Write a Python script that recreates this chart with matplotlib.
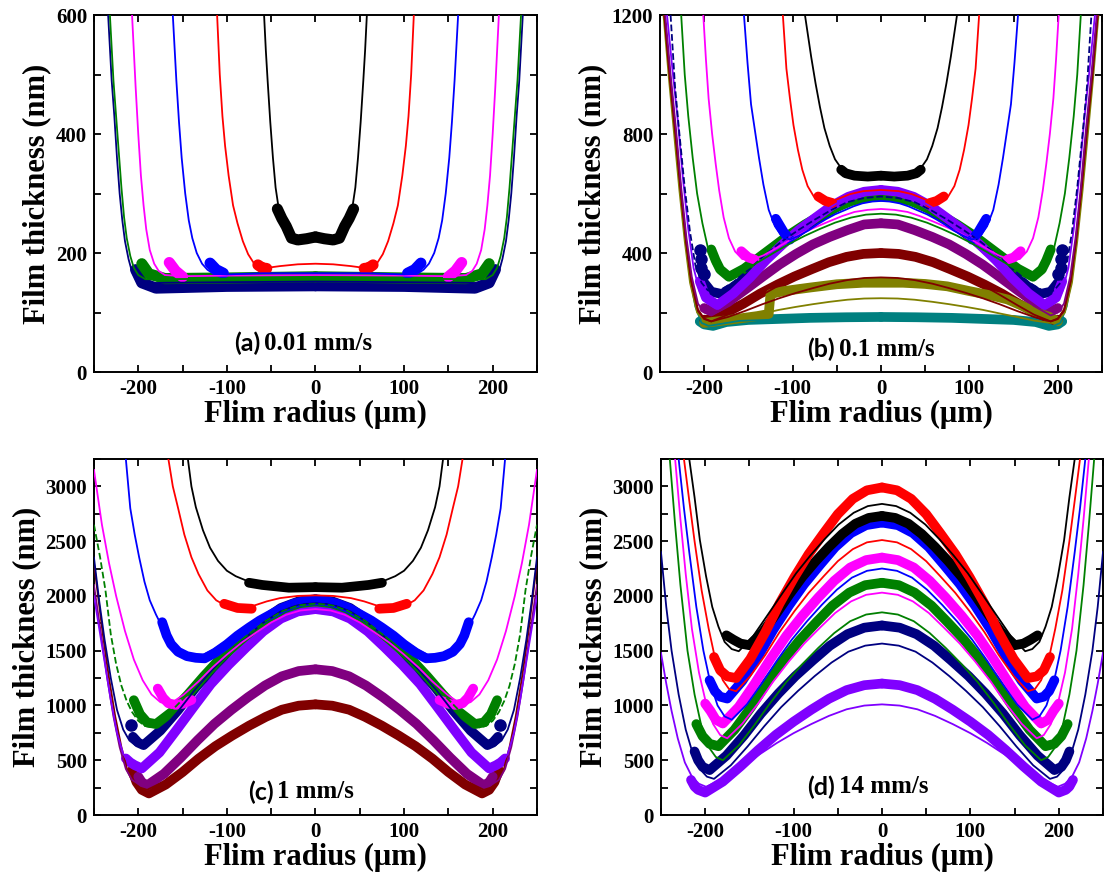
import numpy as np
import matplotlib.pyplot as plt
from matplotlib.ticker import MultipleLocator

plt.rcParams['font.family'] = ['Liberation Serif', 'DejaVu Serif']
plt.rcParams['font.weight'] = 'bold'
plt.rcParams['axes.unicode_minus'] = False

K, R, B, M, G = '#000000', '#ff0000', '#0000ff', '#ff00ff', '#008000'
N, V, P, DR, O, T = '#000080', '#8000ff', '#800080', '#800000', '#808000', '#008080'

# ---- (a) 0.01 mm/s : half profiles (radius um, thickness nm) ----
a_fit_black = [(0, 224), (15, 226), (25, 232), (32, 242), (38, 258), (42, 280), (45, 310), (48, 360),
               (51, 420), (54, 490), (56, 540), (58, 600)]
a_fit_red = [(0, 182), (20, 181), (40, 178), (55, 175), (63, 176), (70, 184), (76, 198), (82, 220),
             (88, 250), (93, 280), (98, 330), (102, 380), (105, 430), (108, 500), (111, 600)]
a_fit_blue = [(0, 166), (60, 166), (100, 164), (115, 165), (122, 172), (128, 182), (134, 200), (139, 225),
              (143, 255), (147, 300), (151, 360), (154, 420), (157, 490), (161, 600)]
a_fit_magenta = [(0, 163), (100, 162), (150, 161), (170, 163), (177, 170), (182, 182), (187, 205), (191, 240),
                 (194, 280), (197, 330), (200, 400), (203, 480), (205, 540), (207, 600)]
a_fit_green = [(0, 158), (100, 157), (170, 156), (192, 156), (200, 163), (205, 175), (209, 195), (213, 225),
               (216, 260), (219, 310), (222, 370), (225, 430), (228, 490), (232, 600)]
a_fit_navy = [(0, 152), (100, 151), (170, 150), (195, 149), (202, 155), (207, 168), (211, 190), (215, 220),
              (218, 255), (221, 300), (224, 360), (227, 430), (230, 490), (234, 600)]

a_dat_black = [(0, 227), (10, 224), (20, 222), (27, 225), (33, 245), (38, 258), (43, 274)]
a_dat_red = [(55, 174), (60, 175), (65, 180)]
a_dat_blue = [(104, 166), (112, 172), (119, 183)]
a_dat_magenta = [(150, 160), (158, 170), (165, 184)]
a_dat_green = [(0, 160), (100, 158), (170, 157), (188, 165), (196, 182)]
a_dat_navy = [(0, 145), (100, 144), (180, 141), (196, 150), (203, 172)]

# ---- (b) 0.1 mm/s ----
b_fit_black = [(0, 655), (20, 657), (35, 665), (45, 685), (52, 715), (58, 760), (64, 820), (69, 890),
               (74, 970), (79, 1060), (83, 1140), (86, 1200)]
b_fit_red = [(0, 612), (20, 608), (35, 598), (50, 580), (60, 570), (68, 572), (76, 590), (83, 625),
             (89, 680), (94, 747), (99, 830), (103, 920), (107, 1020), (111, 1200)]
b_fit_blue = [(0, 575), (10, 573), (21, 567), (31, 557), (41, 544), (52, 530), (62, 514), (72, 496),
              (82, 476), (93, 458), (103, 445), (112, 455), (120, 490), (127, 545), (133, 630),
              (138, 720), (142, 800), (147, 900), (151, 1040), (155, 1200)]
b_fit_magenta = [(0, 548), (15, 545), (30, 538), (44, 524), (59, 506), (74, 487), (89, 467), (104, 442),
                 (118, 417), (133, 392), (148, 375), (157, 380), (165, 405), (172, 450), (178, 520),
                 (183, 610), (187, 700), (191, 800), (195, 920), (198, 1050), (201, 1200)]
b_fit_green = [(0, 532), (17, 529), (34, 519), (52, 502), (69, 481), (86, 458), (103, 432), (120, 403),
               (138, 371), (155, 341), (172, 320), (181, 330), (189, 360), (196, 420), (202, 500),
               (208, 600), (213, 720), (218, 860), (222, 1000), (226, 1200)]
b_fit_navy = [(0, 590), (19, 585), (38, 571), (56, 545), (75, 512), (94, 476), (113, 437), (132, 392),
              (150, 343), (169, 298), (188, 265), (196, 275), (203, 300), (210, 360), (216, 470),
              (222, 620), (228, 800), (233, 960), (238, 1200)]
b_fit_violet = [(0, 610), (19, 604), (38, 587), (57, 555), (76, 516), (95, 474), (114, 427), (133, 372),
                (152, 314), (171, 259), (190, 220), (198, 235), (205, 270), (212, 350), (218, 480),
                (224, 650), (230, 850), (236, 1020), (242, 1200)]
b_fit_purple = [(0, 505), (19, 500), (38, 486), (58, 461), (77, 429), (96, 395), (115, 357), (134, 313),
                (154, 266), (173, 222), (192, 190), (200, 200), (207, 230), (214, 320), (220, 450),
                (226, 620), (232, 820), (238, 1000), (244, 1200)]
b_fit_darkred = [(0, 400), (19, 397), (38, 386), (58, 368), (77, 345), (96, 320), (115, 292), (134, 260),
                 (154, 225), (173, 193), (192, 170), (200, 180), (207, 210), (214, 300), (220, 430),
                 (226, 600), (232, 800), (238, 980), (245, 1200)]
b_fit_brown = [(0, 318), (19, 316), (38, 309), (58, 297), (77, 282), (96, 266), (115, 248), (134, 228),
               (154, 205), (173, 185), (192, 170), (200, 178), (207, 205), (215, 310), (221, 450),
               (227, 620), (233, 810), (239, 990), (245, 1200)]
b_fit_olive = [(0, 248), (19, 247), (38, 243), (58, 236), (77, 228), (96, 219), (115, 209), (134, 197),
               (154, 185), (173, 173), (192, 165), (200, 172), (208, 200), (216, 300), (222, 440),
               (228, 610), (234, 800), (240, 990), (246, 1200)]
b_fit_teal = [(0, 180), (100, 178), (160, 172), (185, 160), (195, 155), (203, 165), (210, 220), (216, 320),
              (222, 470), (228, 650), (234, 850), (240, 1030), (245, 1200)]

b_dat_black = [(0, 660), (15, 657), (30, 660), (40, 668), (45, 680)]
b_dat_red = [(55, 568), (63, 575), (71, 590)]
b_dat_blue = [(103, 445), (110, 470), (119, 515)]
b_dat_magenta = [(143, 378), (150, 385), (158, 406)]
b_dat_green = [(0, 590), (17, 586), (34, 574), (52, 552), (69, 525), (86, 496), (103, 463), (120, 425),
               (138, 385), (155, 347), (172, 320), (182, 345), (187, 375), (192, 412)]
b_dat_navy = [(0, 595), (18, 590), (36, 575), (54, 548), (72, 515), (90, 478), (108, 439), (126, 392),
              (144, 342), (162, 295), (180, 262), (192, 270), (200, 300)]
b_dat_navy_dots = [(200, 330), (204, 350), (204, 380), (205, 410)]
b_dat_violet = [(0, 612), (19, 606), (37, 589), (56, 558), (74, 519), (93, 477), (111, 430), (130, 376),
                (148, 318), (167, 264), (185, 225), (198, 250), (205, 305)]
b_dat_purple = [(0, 500), (19, 496), (38, 477), (58, 454), (77, 429), (96, 397), (115, 361), (134, 320),
                (154, 276), (173, 235), (192, 205), (200, 215)]
b_dat_darkred = [(0, 400), (20, 397), (39, 387), (59, 369), (78, 346), (98, 321), (117, 294), (137, 263),
                 (156, 229), (176, 198), (195, 175), (200, 176)]
b_dat_olive = [(-200, 165), (-180, 172), (-160, 180), (-140, 188), (-127, 195), (-125, 262), (-110, 272),
               (-80, 284), (-50, 295), (-20, 300), (0, 300), (25, 300), (50, 296), (75, 288), (100, 272),
               (125, 257), (143, 244), (160, 222), (175, 200), (190, 186), (200, 170)]
b_dat_teal = [(0, 185), (40, 184), (80, 182), (120, 178), (150, 175), (175, 168), (190, 155), (200, 160),
              (205, 170)]

# ---- (c) 1 mm/s ----
c_fit_black = [(0, 2060), (30, 2065), (55, 2085), (75, 2130), (90, 2180), (100, 2230), (110, 2320),
               (119, 2440), (127, 2600), (135, 2810), (140, 3000), (144, 3250)]
c_fit_red = [(0, 2005), (20, 2000), (40, 1980), (55, 1950), (70, 1910), (85, 1890), (100, 1905),
             (112, 1960), (122, 2050), (132, 2200), (140, 2353), (148, 2560), (155, 2800), (161, 3000),
             (166, 3250)]
c_fit_blue = [(0, 1950), (13, 1943), (26, 1920), (39, 1880), (52, 1830), (65, 1775), (78, 1715),
              (91, 1645), (104, 1570), (117, 1500), (130, 1450), (142, 1465), (153, 1510), (163, 1590),
              (172, 1700), (180, 1830), (187, 1960), (193, 2130), (199, 2353), (204, 2560), (209, 2800),
              (214, 3250)]
c_fit_magenta = [(0, 1880), (17, 1867), (33, 1828), (50, 1758), (66, 1671), (83, 1576), (99, 1471),
                 (116, 1349), (132, 1219), (149, 1097), (165, 1010), (175, 1030), (185, 1100), (195, 1230),
                 (205, 1420), (215, 1680), (225, 2000), (233, 2300), (241, 2650), (250, 3150)]
c_fit_green = [(0, 1930), (19, 1913), (37, 1862), (56, 1772), (74, 1659), (93, 1535), (111, 1399),
               (130, 1241), (148, 1071), (167, 913), (185, 800), (193, 815), (200, 860), (207, 940),
               (213, 1040), (219, 1180), (225, 1380), (231, 1650), (237, 2050), (243, 2350), (250, 2650)]
c_fit_navy = [(0, 1940), (20, 1920), (39, 1861), (59, 1755), (78, 1623), (98, 1478), (117, 1320),
              (137, 1135), (156, 937), (176, 752), (195, 620), (203, 635), (210, 680), (217, 780),
              (224, 960), (231, 1250), (238, 1600), (244, 1950), (250, 2350)]
c_fit_violet = [(0, 1850), (20, 1828), (39, 1764), (59, 1648), (78, 1504), (98, 1346), (117, 1173),
                (137, 972), (156, 756), (176, 554), (195, 410), (203, 425), (210, 460), (217, 560),
                (224, 750), (231, 1050), (238, 1400), (244, 1700), (250, 2000)]
c_fit_purple = [(0, 1310), (19, 1294), (38, 1248), (58, 1164), (77, 1060), (96, 946), (115, 821),
                (134, 676), (154, 520), (173, 374), (192, 270), (200, 285), (207, 320), (214, 420),
                (221, 620), (228, 900), (235, 1250), (242, 1650), (250, 2100)]
c_fit_darkred = [(0, 980), (19, 969), (38, 935), (57, 875), (76, 800), (95, 718), (114, 628), (133, 523),
                 (152, 410), (171, 305), (190, 230), (198, 250), (205, 290), (212, 400), (219, 620),
                 (226, 900), (233, 1250), (240, 1650), (250, 2300)]

c_dat_black = [(0, 2080), (30, 2075), (60, 2100), (75, 2120)]
c_dat_red = [(72, 1883), (88, 1890), (103, 1928)]
c_dat_blue = [(0, 1960), (13, 1952), (25, 1928), (38, 1886), (50, 1833), (63, 1775), (75, 1711),
              (88, 1637), (100, 1557), (113, 1483), (125, 1430), (135, 1435), (145, 1450), (155, 1490),
              (163, 1560), (168, 1640), (173, 1760)]
c_dat_magenta = [(140, 1050), (150, 1015), (158, 1005), (166, 1020), (172, 1070), (178, 1154)]
c_dat_green = [(0, 1950), (18, 1933), (36, 1883), (54, 1793), (72, 1681), (90, 1558), (108, 1424),
               (126, 1267), (144, 1099), (162, 942), (180, 830), (190, 845), (198, 920), (205, 1048)]
c_dat_navy = [(0, 1970), (19, 1950), (39, 1890), (58, 1784), (78, 1650), (97, 1504), (116, 1344),
              (136, 1157), (155, 958), (175, 771), (194, 638), (200, 660), (206, 714)]
c_dat_navy_dots = [(208, 820)]
c_dat_violet = [(0, 1880), (20, 1858), (39, 1793), (59, 1676), (78, 1531), (98, 1371), (118, 1196),
                (137, 992), (157, 774), (176, 571), (196, 425), (204, 455), (209, 480), (214, 516)]
c_dat_purple = [(0, 1330), (19, 1314), (38, 1266), (57, 1182), (76, 1076), (95, 959), (114, 832),
                (133, 683), (152, 524), (171, 376), (190, 270), (196, 300), (200, 350)]
c_dat_darkred = [(0, 1010), (19, 998), (38, 961), (56, 896), (75, 815), (94, 725), (113, 628), (132, 514),
                 (150, 392), (169, 278), (188, 197), (196, 230), (202, 300), (207, 410)]

# ---- (d) 14 mm/s ----
d_fit_black = [(0, 2840), (16, 2820), (32, 2759), (49, 2652), (65, 2517), (81, 2369), (97, 2208),
               (113, 2020), (130, 1818), (146, 1630), (162, 1495), (170, 1515), (178, 1580), (185, 1720),
               (192, 1900), (199, 2180), (206, 2510), (212, 2900), (218, 3250)]
d_fit_red = [(0, 2510), (17, 2489), (33, 2427), (50, 2317), (66, 2179), (83, 2027), (99, 1861),
             (116, 1668), (132, 1461), (149, 1268), (165, 1130), (173, 1150), (180, 1230), (188, 1400),
             (196, 1700), (204, 2050), (212, 2500), (218, 2870), (224, 3250)]
d_fit_blue = [(0, 2250), (17, 2229), (34, 2167), (51, 2057), (68, 1919), (85, 1767), (102, 1601),
              (119, 1408), (136, 1201), (153, 1008), (170, 870), (178, 900), (186, 1000), (194, 1200),
              (202, 1500), (210, 1900), (218, 2400), (224, 2800), (230, 3250)]
d_fit_magenta = [(0, 2030), (18, 2010), (35, 1950), (53, 1844), (70, 1711), (88, 1565), (105, 1405),
                 (123, 1219), (140, 1019), (158, 833), (175, 700), (183, 730), (191, 830), (199, 1020),
                 (207, 1300), (215, 1700), (222, 2200), (228, 2700), (234, 3250)]
d_fit_green = [(0, 1850), (18, 1830), (36, 1769), (54, 1661), (72, 1526), (90, 1378), (108, 1216),
               (126, 1027), (144, 824), (162, 635), (180, 500), (188, 530), (196, 620), (204, 800),
               (212, 1100), (220, 1500), (228, 2100), (234, 2650), (240, 3250)]
d_fit_navy = [(0, 1565), (19, 1546), (38, 1491), (57, 1392), (76, 1269), (95, 1133), (114, 985),
              (133, 812), (152, 626), (171, 454), (190, 330), (198, 350), (206, 420), (214, 560),
              (222, 780), (230, 1100), (238, 1500), (244, 1900), (250, 2400)]
d_fit_violet = [(0, 1010), (20, 999), (40, 965), (60, 905), (80, 830), (100, 747), (119, 657),
                (139, 551), (159, 438), (179, 333), (199, 258), (207, 285), (215, 350), (223, 480),
                (231, 700), (238, 950), (244, 1200), (250, 1480)]

d_dat_black = [(0, 2730), (15, 2712), (30, 2659), (45, 2565), (60, 2447), (75, 2317), (90, 2175),
               (105, 2010), (120, 1833), (135, 1668), (150, 1550), (160, 1565), (168, 1600), (176, 1640)]
d_dat_red = [(0, 2990), (17, 2964), (33, 2886), (50, 2746), (66, 2572), (83, 2381), (99, 2172),
             (116, 1929), (132, 1668), (149, 1424), (165, 1250), (175, 1265), (183, 1320), (190, 1442)]
d_dat_blue = [(0, 2670), (18, 2646), (35, 2574), (53, 2445), (70, 2284), (88, 2108), (105, 1915),
              (123, 1690), (140, 1449), (158, 1224), (175, 1063), (183, 1080), (189, 1130), (195, 1230)]
d_dat_magenta = [(0, 2350), (18, 2327), (36, 2259), (54, 2138), (72, 1986), (90, 1820), (108, 1638),
                 (126, 1426), (144, 1199), (162, 987), (180, 835), (188, 870), (194, 950), (200, 1017)]
d_dat_green = [(0, 2120), (19, 2098), (37, 2030), (56, 1911), (74, 1762), (93, 1598), (111, 1419),
               (130, 1210), (148, 986), (167, 777), (185, 628), (195, 650), (203, 720), (210, 830)]
d_dat_navy = [(0, 1730), (20, 1710), (39, 1651), (59, 1545), (78, 1413), (98, 1268), (117, 1110),
              (137, 925), (156, 727), (176, 542), (195, 410), (203, 440), (208, 500), (212, 580)]
d_dat_violet = [(0, 1200), (20, 1185), (40, 1140), (60, 1061), (80, 961), (100, 852), (120, 732),
                (140, 593), (160, 444), (180, 305), (200, 205), (208, 230), (212, 260), (216, 320)]


def mirror(pts):
    r, h = np.array(pts, dtype=float).T
    return np.concatenate([-r[::-1], r[1:]]), np.concatenate([h[::-1], h[1:]])


def fit(ax, pts, color, ls='-'):
    r, h = mirror(pts)
    ax.plot(r, h, color=color, lw=1.3, ls=ls, zorder=3)


def data(ax, pts, color, sym=True, lw=7):
    r, h = np.array(pts, dtype=float).T
    sides = (-1, 1) if sym else (1,)
    for s in sides:
        ax.plot(s * r, h, color=color, lw=lw, solid_capstyle='round',
                solid_joinstyle='round', zorder=2)


def dots(ax, pts, color):
    r, h = np.array(pts, dtype=float).T
    for s in (-1, 1):
        ax.plot(s * r, h, 'o', color=color, ms=8, zorder=2)


def style(ax, ymax, ymaj, ymin, tag, speed, tx, ty):
    ax.set_xlim(-250, 250)
    ax.set_ylim(0, ymax)
    ax.xaxis.set_major_locator(MultipleLocator(100))
    ax.xaxis.set_minor_locator(MultipleLocator(50))
    ax.yaxis.set_major_locator(MultipleLocator(ymaj))
    ax.yaxis.set_minor_locator(MultipleLocator(ymin))
    ax.tick_params(which='both', direction='in', top=True, right=True, width=1.3,
                   length=5, labelsize=15, pad=5)
    for sp in ax.spines.values():
        sp.set_linewidth(1.4)
    ax.set_xlabel('Flim radius (μm)', fontsize=22, fontweight='bold', labelpad=1)
    ax.set_ylabel('Film thickness (nm)', fontsize=22, fontweight='bold', labelpad=3)
    ax.text(tx, ty, tag, transform=ax.transAxes, ha='right', va='center',
            family=['Lato', 'DejaVu Sans'], fontsize=18, fontweight='bold')
    ax.text(tx + 0.008, ty, speed, transform=ax.transAxes, ha='left', va='center',
            fontsize=18, fontweight='bold')


fig = plt.figure(figsize=(11.04, 8.83), dpi=100)
ax_a = fig.add_axes([0.0851, 0.5787, 0.4013, 0.4043])
ax_b = fig.add_axes([0.5978, 0.5787, 0.4004, 0.4043])
ax_c = fig.add_axes([0.0851, 0.0770, 0.4013, 0.4032])
ax_d = fig.add_axes([0.5987, 0.0770, 0.4004, 0.4032])

# (a)
for pts, col in [(a_dat_navy, N), (a_dat_green, G), (a_dat_magenta, M), (a_dat_blue, B),
                 (a_dat_red, R), (a_dat_black, K)]:
    data(ax_a, pts, col, lw=8)
for pts, col in [(a_fit_navy, N), (a_fit_green, G), (a_fit_magenta, M), (a_fit_blue, B),
                 (a_fit_red, R), (a_fit_black, K)]:
    fit(ax_a, pts, col)
style(ax_a, 600, 200, 100, '(a)', '0.01 mm/s', 0.375, 0.081)

# (b)
for pts, col in [(b_dat_teal, T), (b_dat_darkred, DR), (b_dat_purple, P),
                 (b_dat_navy, N), (b_dat_green, G), (b_dat_violet, V), (b_dat_magenta, M),
                 (b_dat_blue, B), (b_dat_red, R), (b_dat_black, K)]:
    data(ax_b, pts, col)
data(ax_b, b_dat_olive, O, sym=False)
dots(ax_b, b_dat_navy_dots, N)
for pts, col, ls in [(b_fit_teal, T, '-'), (b_fit_olive, O, '-'), (b_fit_brown, DR, '-'),
                     (b_fit_darkred, DR, '-'), (b_fit_purple, P, '-'), (b_fit_violet, V, '-'),
                     (b_fit_navy, N, '--'), (b_fit_green, G, '-'), (b_fit_magenta, M, '-'),
                     (b_fit_blue, B, '-'), (b_fit_red, R, '-'), (b_fit_black, K, '-')]:
    fit(ax_b, pts, col, ls)
style(ax_b, 1200, 400, 200, '(b)', '0.1 mm/s', 0.396, 0.064)

# (c)
for pts, col in [(c_dat_darkred, DR), (c_dat_purple, P), (c_dat_violet, V), (c_dat_navy, N),
                 (c_dat_green, G), (c_dat_magenta, M), (c_dat_blue, B), (c_dat_red, R),
                 (c_dat_black, K)]:
    data(ax_c, pts, col)
dots(ax_c, c_dat_navy_dots, N)
for pts, col, ls in [(c_fit_darkred, DR, '-'), (c_fit_purple, P, '-'), (c_fit_violet, V, '-'),
                     (c_fit_navy, N, '-'), (c_fit_green, G, '--'), (c_fit_magenta, M, '-'),
                     (c_fit_blue, B, '-'), (c_fit_red, R, '-'), (c_fit_black, K, '-')]:
    fit(ax_c, pts, col, ls)
style(ax_c, 3250, 500, 250, '(c)', '1 mm/s', 0.406, 0.065)

# (d)
for pts, col in [(d_dat_violet, V), (d_dat_navy, N), (d_dat_green, G), (d_dat_magenta, M),
                 (d_dat_blue, B), (d_dat_black, K), (d_dat_red, R)]:
    data(ax_d, pts, col)
for pts, col in [(d_fit_violet, V), (d_fit_navy, N), (d_fit_green, G), (d_fit_magenta, M),
                 (d_fit_blue, B), (d_fit_red, R), (d_fit_black, K)]:
    fit(ax_d, pts, col)
style(ax_d, 3250, 500, 250, '(d)', '14 mm/s', 0.394, 0.079)

fig.savefig('out.png', dpi=100)
